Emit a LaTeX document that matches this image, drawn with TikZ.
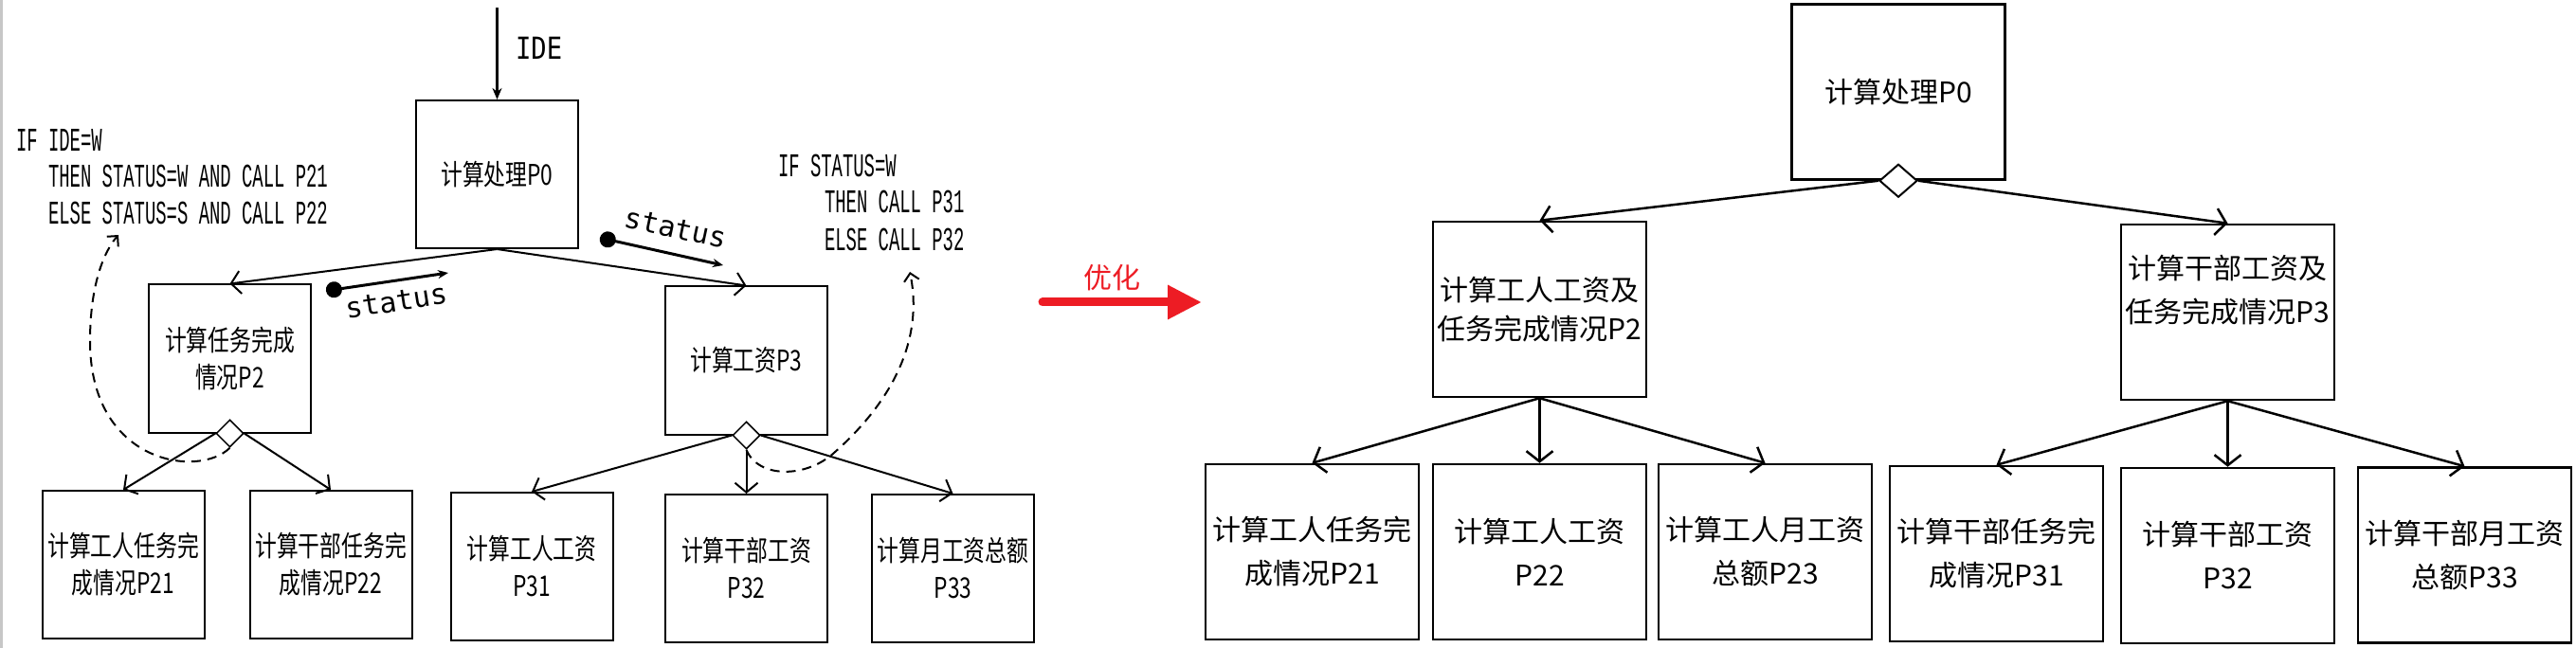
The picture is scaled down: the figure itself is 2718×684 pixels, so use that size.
\documentclass[tikz,border=0pt]{standalone}
\usepackage{fontspec}
\usetikzlibrary{arrows.meta,shapes.geometric}
\newfontfamily\cjk{Noto Sans CJK SC}
\newfontfamily\codefont{Liberation Mono}
\newfontfamily\monofont{DejaVu Sans Mono}
\newcommand{\nar}[1]{\scalebox{0.76}[1]{#1}}
\newcommand{\cond}[1]{\scalebox{0.54}[1]{#1}}
\definecolor{optred}{RGB}{237,28,36}

\tikzset{every picture/.style={line width=2pt}}

\begin{document}
\begin{tikzpicture}[x=1pt,y=1pt,yscale=-1,xscale=1,
	lbox/.style={draw, line width=2pt, minimum width=171pt, minimum height=156pt, inner sep=2pt, align=center, font=\cjk\fontsize{30}{39}\selectfont},
	rbox/.style={draw, line width=2.5pt, minimum width=225pt, minimum height=185pt, inner sep=2pt, align=center, font=\cjk\fontsize{30}{46}\selectfont},
	ldmd/.style={diamond, draw, fill=white, line width=1.5pt, minimum width=29pt, minimum height=29pt, inner sep=0pt},
	rdmd/.style={diamond, draw, fill=white, line width=2pt, minimum width=40pt, minimum height=35pt, inner sep=0pt},
	ledge/.style={line width=2pt, -{Straight Barb[length=10pt,width=24pt]}},
	redge/.style={line width=2.5pt, -{Straight Barb[length=11pt,width=28pt]}},
	callback/.style={line width=2pt, dash pattern=on 10pt off 7pt, -{Straight Barb[length=8pt,width=16pt]}},
	statusarrow/.style={line width=3pt, {Circle[length=17pt]}-{Stealth[length=11pt,width=9pt]}},
	stxt/.style={inner sep=0pt, font=\monofont\fontsize{30}{30}\selectfont},
	condtxt/.style={inner sep=0pt, anchor=base west, font=\codefont\fontsize{35}{38}\selectfont}
	]
	\useasboundingbox (0,0) rectangle (2718,684);
	% left edge of the screenshot
	\fill[black!22] (0,0) rectangle (3,684);

	% left: original structure
	\node[lbox] (P0) at (524.5,184) {\nar{计算处理P0}};
	\node[lbox] (P2) at (242.5,378.5) {\nar{计算任务完成}\\\nar{情况P2}};
	\node[lbox] (P3) at (787.5,380.5) {\nar{计算工资P3}};
	\node[lbox] (P21) at (130,596) {\nar{计算工人任务完}\\\nar{成情况P21}};
	\node[lbox] (P22) at (349,596) {\nar{计算干部任务完}\\\nar{成情况P22}};
	\node[lbox] (P31) at (561,598) {\nar{计算工人工资}\\\nar{P31}};
	\node[lbox] (P32) at (787.5,600) {\nar{计算干部工资}\\\nar{P32}};
	\node[lbox] (P33) at (1005.5,600) {\nar{计算月工资总额}\\\nar{P33}};
	\node[ldmd] (P2d) at (P2.south) {};
	\node[ldmd] (P3d) at (P3.south) {};

	\draw[ledge] (P0.south) -- (P2.north);
	\draw[ledge] (P0.south) -- (P3.north);
	\draw[ledge] (P2d.west) -- (P21.north);
	\draw[ledge] (P2d.east) -- (P22.north);
	\draw[ledge] (P3d.west) -- (P31.north);
	\draw[ledge] (P3d.south) -- (P32.north);
	\draw[ledge] (P3d.east) -- (P33.north);

	% input IDE
	\coordinate (ideIn) at (524.5,8);
	\draw[line width=2.5pt, -{Stealth[length=12pt,width=10pt]}] (ideIn) -- (P0);
	\node[anchor=west, inner sep=0pt, font=\monofont\fontsize{32}{32}\selectfont] (ide) at (543,51) {\scalebox{0.85}[1]{IDE}};

	% status couples
	\coordinate (s1a) at (344,307);
	\coordinate (s1b) at (473,288);
	\draw[statusarrow] (s1a) -- (s1b);
	\node[stxt, rotate=9] (st1) at (418,318) {status};
	\coordinate (s2a) at (633,251);
	\coordinate (s2b) at (763,280);
	\draw[statusarrow] (s2a) -- (s2b);
	\node[stxt, rotate=-12] (st2) at (713,241) {status};

	% decision notes
	\node[condtxt] (ifA1) at (16,160) {\cond{IF IDE=W}};
	\node[condtxt] (ifA2) at (50,198) {\cond{THEN STATUS=W AND CALL P21}};
	\node[condtxt] (ifA3) at (50,237) {\cond{ELSE STATUS=S AND CALL P22}};
	\node[condtxt] (ifB1) at (820,187) {\cond{IF STATUS=W}};
	\node[condtxt] (ifB2) at (869,225) {\cond{THEN CALL P31}};
	\node[condtxt] (ifB3) at (869,265) {\cond{ELSE CALL P32}};

	\coordinate (c2) at (125,248);
	\coordinate (c3) at (960,287);
	\draw[callback] (P2d.south) .. controls (210,505) and (95,490) .. (95,360) .. controls (95,300) and (110,265) .. (c2);
	\draw[callback] (P3d.south) .. controls (800,505) and (850,505) .. (880,478) .. controls (940,425) and (975,360) .. (c3);

	% optimise
	\coordinate (optA) at (1100,319);
	\coordinate (optB) at (1268,319);
	\draw[optred, line width=9pt, line cap=round, -{Triangle[length=36pt,width=34pt]}] (optA) -- (optB);
	\node[text=optred, inner sep=0pt, font=\cjk\fontsize{30}{30}\selectfont] (opt) at (1173,293) {优化};

	% right: optimised structure
	\node[rbox] (R0) at (2003,97) {计算处理P0};
	\node[rbox] (R2) at (1624.5,326.5) {计算工人工资及\\[-5pt]任务完成情况P2};
	\node[rbox] (R3) at (2350.5,329.5) {计算干部工资及\\任务完成情况P3\\[4pt]\mbox{}};
	\node[rbox] (B21) at (1384.5,582.5) {计算工人任务完\\成情况P21};
	\node[rbox] (B22) at (1624.5,582.5) {计算工人工资\\P22};
	\node[rbox] (B23) at (1862.5,582.5) {计算工人月工资\\总额P23};
	\node[rbox] (B31) at (2106.5,584.5) {计算干部任务完\\成情况P31};
	\node[rbox] (B32) at (2350.5,586.5) {计算干部工资\\P32};
	\node[rbox] (B33) at (2600.5,586) {计算干部月工资\\总额P33};
	\node[rdmd] (R0d) at (R0.south) {};

	\draw[redge] (R0d.west) -- (R2.north);
	\draw[redge] (R0d.east) -- (R3.north);
	\draw[redge] (R2.south) -- (B21.north);
	\draw[redge] (R2.south) -- (B22.north);
	\draw[redge] (R2.south) -- (B23.north);
	\draw[redge] (R3.south) -- (B31.north);
	\draw[redge] (R3.south) -- (B32.north);
	\draw[redge] (R3.south) -- (B33.north);
\end{tikzpicture}
\end{document}
